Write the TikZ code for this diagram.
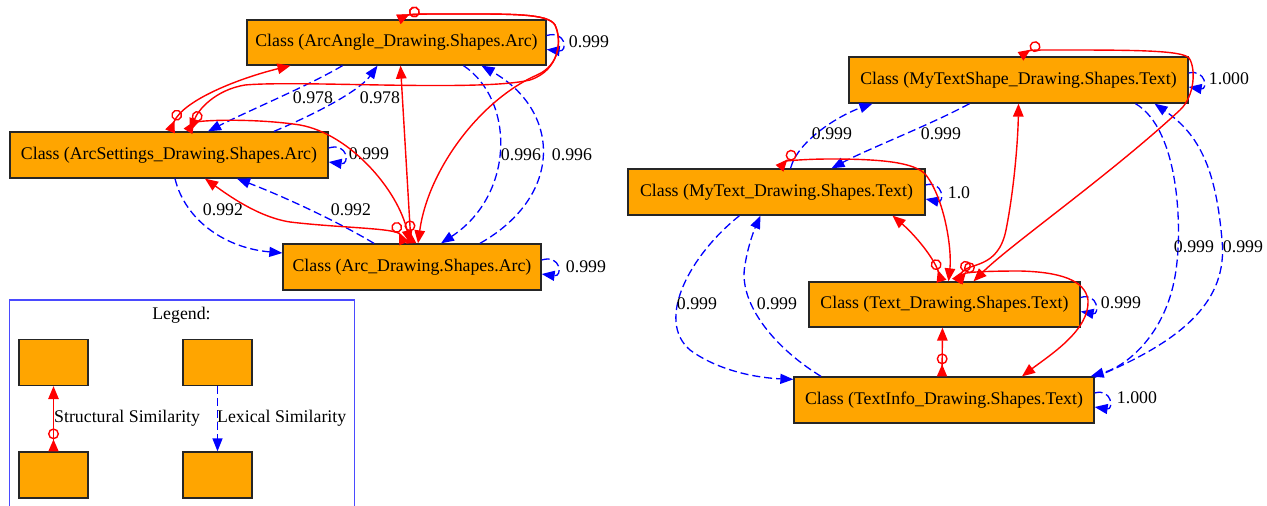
\documentclass[tikz,border=0pt]{standalone}
\usepackage{fontspec}
\setmainfont{Liberation Serif}
\usetikzlibrary{arrows.meta}
\definecolor{gvorange}{HTML}{FFA500}
\definecolor{gvred}{HTML}{FF0000}
\definecolor{gvblue}{HTML}{0000FF}
\definecolor{legblue}{HTML}{4A4AFF}
\tikzset{
  cls/.style={draw=black!85, line width=1.3pt, fill=gvorange, inner sep=0pt, font=\fontsize{17.8}{20}\selectfont},
  legbox/.style={draw=black!85, line width=1.3pt, fill=gvorange, inner sep=0pt, minimum width=69pt, minimum height=46pt},
  lbl/.style={inner sep=0pt, font=\fontsize{17.8}{20}\selectfont},
  lex/.style={gvblue, line width=1.3pt, dash pattern=on 8pt off 4pt, -{Triangle[length=13pt,width=10pt]}},
  strc/.style={gvred, line width=1.4pt, {Triangle[reversed,length=12pt,width=10pt,sep=0pt] Circle[open,length=11pt,width=11pt,sep=0pt]}-{Triangle[length=13pt,width=10.5pt]}},
}
\begin{document}
\begin{tikzpicture}[x=1pt,y=-1pt]
\useasboundingbox (0,0) rectangle (1267,506);
% ---------- left cluster ----------
\node[cls, minimum width=299pt, minimum height=45pt] (aa) at (396.5,42.5) {Class (ArcAngle\_Drawing.Shapes.Arc)};
\node[cls, minimum width=318pt, minimum height=46pt] (as) at (169,155) {Class (ArcSettings\_Drawing.Shapes.Arc)};
\node[cls, minimum width=258pt, minimum height=46pt] (ar) at (412,267) {Class (Arc\_Drawing.Shapes.Arc)};
% lexical
\draw[lex] ([xshift=-54]aa.south) .. controls (310,85) and (250,110) .. ([xshift=39]as.north);
\draw[lex] ([xshift=105]as.north) .. controls (320,112) and (360,90) .. ([xshift=-19]aa.south);
\draw[lex] ([xshift=67]aa.south) .. controls (515,100) and (515,195) .. ([xshift=29]ar.north);
\draw[lex] ([xshift=68]ar.north) .. controls (565,195) and (560,110) .. ([xshift=85]aa.south);
\draw[lex] ([xshift=6]as.south) .. controls (185,220) and (225,248) .. ([yshift=14]ar.west);
\draw[lex] ([xshift=-38]ar.north) .. controls (335,220) and (280,195) .. ([xshift=68]as.south);
\draw[lex] ([yshift=7]aa.east) .. controls (566,30) and (568,52) .. ([yshift=-7]aa.east);
\draw[lex] ([yshift=7]as.east) .. controls (348,142) and (350,165) .. ([yshift=-7]as.east);
\draw[lex] ([yshift=7]ar.east) .. controls (561,254) and (563,277) .. ([yshift=-7]ar.east);
\node[lbl] (l1) at (313,98) {0.978};
\node[lbl] (l2) at (380,98) {0.978};
\node[lbl] (l3) at (521,155) {0.996};
\node[lbl] (l4) at (572,155) {0.996};
\node[lbl] (l5) at (223,210) {0.992};
\node[lbl] (l6) at (351,210) {0.992};
\node[lbl] (l7) at (589,42) {0.999};
\node[lbl] (l8) at (369,154) {0.999};
\node[lbl] (l9) at (586,267) {0.999};
% structural
\draw[strc] ([xshift=1]as.north) .. controls (183,100) and (240,78) .. ([xshift=-106]aa.south);
\draw[strc] ([xshift=2]aa.north) .. controls (410,14) and (425,14) .. (445,14) .. controls (510,14) and (548,13) .. (555,25) .. controls (562,40) and (560,70) .. (530,80) .. controls (480,92) and (300,80) .. (245,85) .. controls (215,90) and (198,110) .. ([xshift=21]as.north);
\draw[strc] ([xshift=2]aa.north) .. controls (410,14) and (425,14) .. (445,14) .. controls (510,14) and (548,13) .. (555,25) .. controls (562,40) and (560,65) .. (537,75) .. controls (480,100) and (428,170) .. ([xshift=6]ar.north);
\draw[strc] ([xshift=-1]ar.north) -- ([xshift=4]aa.south);
\draw[strc] ([xshift=-8]ar.north) .. controls (397,228) and (340,228) .. (290,222) .. controls (258,217) and (228,195) .. ([xshift=36]as.south);
\draw[strc] ([xshift=19]as.north) .. controls (195,120) and (255,118) .. (300,125) .. controls (350,134) and (398,190) .. ([xshift=-2]ar.north);
% ---------- right cluster ----------
\node[cls, minimum width=339pt, minimum height=46pt] (mts) at (1018.5,80) {Class (MyTextShape\_Drawing.Shapes.Text)};
\node[cls, minimum width=297pt, minimum height=46pt] (mt) at (776.5,192) {Class (MyText\_Drawing.Shapes.Text)};
\node[cls, minimum width=271pt, minimum height=45pt] (tx) at (944.5,304.5) {Class (Text\_Drawing.Shapes.Text)};
\node[cls, minimum width=300pt, minimum height=46pt] (ti) at (944,400) {Class (TextInfo\_Drawing.Shapes.Text)};
% lexical
\draw[lex] ([xshift=14]mt.north) .. controls (798,140) and (840,115) .. ([xshift=-146]mts.south);
\draw[lex] ([xshift=-49]mts.south) .. controls (930,125) and (870,148) .. ([xshift=55]mt.north);
\draw[lex] ([xshift=-37]mt.south) .. controls (690,255) and (655,320) .. (690,350) .. controls (720,372) and (760,378) .. ([yshift=-3]ti.north west);
\draw[lex] ([xshift=-123]ti.north) .. controls (770,345) and (738,300) .. (745,265) .. controls (748,245) and (755,228) .. ([xshift=-16]mt.south);
\draw[lex] ([xshift=117]mts.south) .. controls (1180,130) and (1182,230) .. (1176,270) .. controls (1168,330) and (1130,365) .. ([xshift=-4]ti.north east);
\draw[lex] ([yshift=-1]ti.north east) .. controls (1185,340) and (1228,300) .. (1222,240) .. controls (1216,170) and (1200,135) .. ([xshift=136]mts.south);
\draw[lex] ([yshift=7]mts.east) .. controls (1206,69) and (1208,90) .. ([yshift=-7]mts.east);
\draw[lex] ([yshift=7]mt.east) .. controls (943,180) and (945,203) .. ([yshift=-7]mt.east);
\draw[lex] ([yshift=7]tx.east) .. controls (1098,292) and (1100,315) .. ([yshift=-7]tx.east);
\draw[lex] ([yshift=7]ti.east) .. controls (1112,388) and (1114,410) .. ([yshift=-7]ti.east);
\node[lbl] (r1) at (832,134) {0.999};
\node[lbl] (r2) at (941,134) {0.999};
\node[lbl] (r3) at (697,304) {0.999};
\node[lbl] (r4) at (777,304) {0.999};
\node[lbl] (r5) at (1194,247) {0.999};
\node[lbl] (r6) at (1243,247) {0.999};
\node[lbl] (r7) at (1229,79) {1.000};
\node[lbl] (r8) at (959,193) {1.0};
\node[lbl] (r9) at (1121,303) {0.999};
\node[lbl] (r10) at (1137,398) {1.000};
% structural
\draw[strc] ([xshift=2]mts.north) .. controls (1030,50) and (1040,50) .. (1055,50) .. controls (1130,50) and (1182,50) .. (1189,58) .. controls (1196,68) and (1195,96) .. (1180,110) .. controls (1110,175) and (1010,245) .. ([xshift=29]tx.north);
\draw[strc] ([xshift=12]tx.north) .. controls (968,262) and (998,270) .. (1006,230) .. controls (1014,190) and (1018,140) .. (mts.south);
\draw[strc] ([xshift=3]mt.north) .. controls (786,161) and (805,159) .. (830,159) .. controls (880,159) and (915,162) .. (926,175) .. controls (945,200) and (952,250) .. ([xshift=4]tx.north);
\draw[strc] ([xshift=-3]tx.north) .. controls (934,258) and (915,235) .. ([xshift=116]mt.south);
\draw[strc] ([xshift=14]tx.north) .. controls (966,272) and (990,271) .. (1020,271) .. controls (1060,272) and (1085,280) .. (1088,300) .. controls (1090,330) and (1050,355) .. ([xshift=78]ti.north);
\draw[strc] ([xshift=-2]ti.north) -- ([xshift=-2]tx.south);
% ---------- legend ----------
\draw[legblue, line width=1.3pt] (9.5,512) -- (9.5,300) -- (354.5,300) -- (354.5,512);
\node[lbl] (legt) at (181.5,315) {Legend:};
\node[legbox] (lg1) at (53.5,362.5) {};
\node[legbox] (lg2) at (217.5,362.5) {};
\node[legbox] (lg3) at (53.5,475) {};
\node[legbox] (lg4) at (217.5,475) {};
\draw[strc] (lg3.north) -- (lg1.south);
\draw[lex] (lg2.south) -- (lg4.north);
\node[lbl, anchor=west] (lgs) at (54,418) {Structural Similarity};
\node[lbl, anchor=west] (lgl) at (217,418) {Lexical Similarity};
\end{tikzpicture}
\end{document}
